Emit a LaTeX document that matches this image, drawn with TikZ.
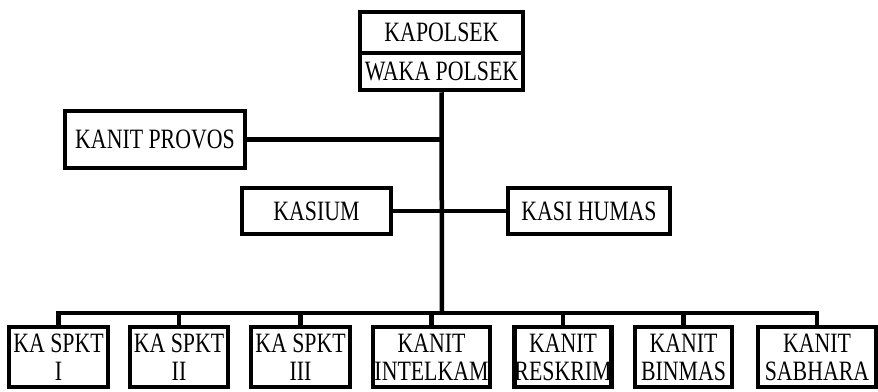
\documentclass[tikz,border=0pt]{standalone}
\usepackage{fontspec}
\setmainfont{Liberation Serif}[FakeStretch=0.78]
\begin{document}
\begin{tikzpicture}[x=1pt,y=-1pt,
  box/.style={draw, line width=4.5pt, font=\fontsize{28}{28}\selectfont, align=center, inner sep=0pt},
  conn/.style={line width=4.5pt}]
\useasboundingbox (0,0) rectangle (878,391);
\clip (0,0) rectangle (878,391);
\node[box, minimum width=163pt, minimum height=41pt] (kap) at (441.5,32.5) {KAPOLSEK};
\node[box, minimum width=163pt, minimum height=37pt] (waka) at (441.5,71.5) {WAKA POLSEK};
\node[box, minimum width=180pt, minimum height=57pt] (provos) at (155,139.5) {KANIT PROVOS};
\node[box, minimum width=149pt, minimum height=46pt] (kasium) at (316.5,211) {KASIUM};
\node[box, minimum width=162pt, minimum height=46pt] (humas) at (589,211) {KASI HUMAS};
\coordinate (bus) at (442,313);
\node[box, minimum width=99pt, minimum height=60pt] (b1) at (58.5,357) {KA SPKT\\I};
\node[box, minimum width=98pt, minimum height=60pt] (b2) at (179,357) {KA SPKT\\II};
\node[box, minimum width=99pt, minimum height=60pt] (b3) at (300.5,357) {KA SPKT\\III};
\node[box, minimum width=117pt, minimum height=60pt] (b4) at (431.5,357) {KANIT\\INTELKAM};
\node[box, minimum width=96pt, minimum height=60pt] (b5) at (563,357) {KANIT\\RESKRIM};
\node[box, minimum width=97pt, minimum height=60pt] (b6) at (683.5,357) {KANIT\\BINMAS};
\node[box, minimum width=118pt, minimum height=60pt] (b7) at (817,357) {KANIT\\SABHARA};
\draw[conn] (waka.south) -- (bus);
\draw[conn] (provos.east) -- (provos.east -| bus);
\draw[conn] (kasium.east) -- (humas.west);
\draw[conn] (b1.north) |- (bus) -| (b7.north);
\foreach \b in {b2,b3,b4,b5,b6} \draw[conn] (\b.north) -- (\b.north |- bus);
\end{tikzpicture}
\end{document}
